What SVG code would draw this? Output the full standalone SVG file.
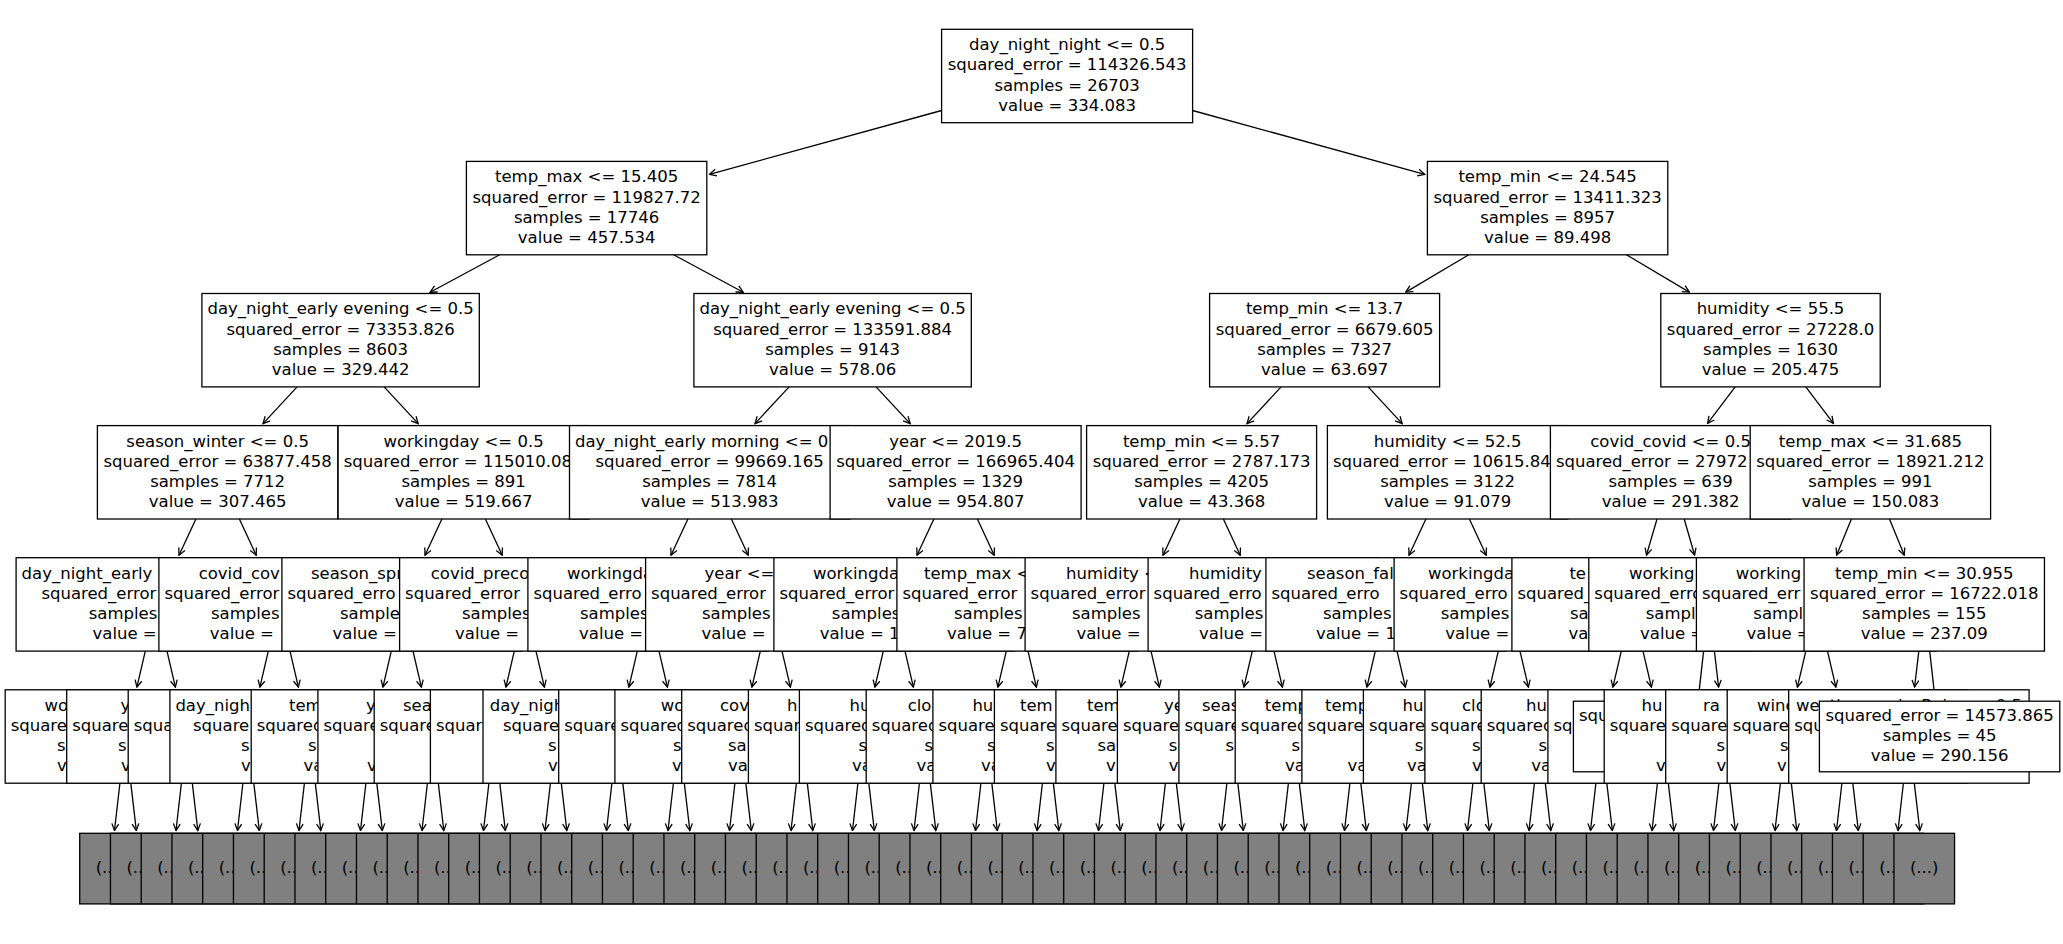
<svg xmlns="http://www.w3.org/2000/svg" width="2063" height="944" viewBox="0 0 2063 944">
<style>
.b{fill:#fff;stroke:#000;stroke-width:1.3}
.g{fill:#808080;stroke:#000;stroke-width:1.3}
text{font-family:"DejaVu Sans","Liberation Sans",sans-serif;font-size:16.5px;fill:#000}
.m{text-anchor:middle}
#connectors line{stroke:#000;stroke-width:1.3;fill:none;marker-end:url(#ah)}
</style>
<defs>
<marker id="ah" markerUnits="userSpaceOnUse" viewBox="-9 -5 10 10" refX="0" refY="0" markerWidth="10" markerHeight="10" orient="auto">
<path d="M-6.8,-3.4 L0,0 L-6.8,3.4" fill="none" stroke="#000" stroke-width="1.3"/>
</marker>
</defs>
<rect x="0" y="0" width="2063" height="944" fill="#fff"/>
<g id="connectors">
<line x1="941.6" y1="110.5" x2="709.5" y2="174.3"/>
<line x1="1192.6" y1="110.5" x2="1424.7" y2="174.3"/>
<line x1="499.7" y1="254.8" x2="430.1" y2="292.2"/>
<line x1="673.6" y1="254.8" x2="743.2" y2="292.2"/>
<line x1="1468.8" y1="254.8" x2="1405.8" y2="292.1"/>
<line x1="1626.4" y1="254.8" x2="1689.3" y2="292.1"/>
<line x1="297.1" y1="386.9" x2="263.0" y2="423.6"/>
<line x1="384.1" y1="386.9" x2="418.2" y2="423.6"/>
<line x1="789.1" y1="386.9" x2="755.0" y2="423.6"/>
<line x1="876.1" y1="386.9" x2="910.2" y2="423.6"/>
<line x1="1281.1" y1="386.9" x2="1247.0" y2="423.6"/>
<line x1="1368.1" y1="386.9" x2="1402.2" y2="423.6"/>
<line x1="1735.2" y1="386.9" x2="1707.6" y2="423.4"/>
<line x1="1805.8" y1="386.9" x2="1833.4" y2="423.4"/>
<line x1="195.9" y1="519" x2="179.0" y2="555.2"/>
<line x1="239.4" y1="519" x2="256.2" y2="555.2"/>
<line x1="441.9" y1="519" x2="425.0" y2="555.2"/>
<line x1="485.4" y1="519" x2="502.2" y2="555.2"/>
<line x1="687.9" y1="519" x2="671.0" y2="555.2"/>
<line x1="731.4" y1="519" x2="748.2" y2="555.2"/>
<line x1="933.9" y1="519" x2="917.0" y2="555.2"/>
<line x1="977.4" y1="519" x2="994.2" y2="555.2"/>
<line x1="1179.9" y1="519" x2="1163.0" y2="555.2"/>
<line x1="1223.4" y1="519" x2="1240.2" y2="555.2"/>
<line x1="1425.9" y1="519" x2="1409.0" y2="555.2"/>
<line x1="1469.4" y1="519" x2="1486.2" y2="555.2"/>
<line x1="1657.0" y1="519" x2="1646.5" y2="555.0"/>
<line x1="1684.2" y1="519" x2="1694.6" y2="555.0"/>
<line x1="1851.4" y1="519" x2="1836.7" y2="555.1"/>
<line x1="1889.5" y1="519" x2="1904.2" y2="555.1"/>
<line x1="145.3" y1="651.1" x2="136.9" y2="687.1"/>
<line x1="167.0" y1="651.1" x2="175.4" y2="687.1"/>
<line x1="268.3" y1="651.1" x2="259.9" y2="687.1"/>
<line x1="290.0" y1="651.1" x2="298.4" y2="687.1"/>
<line x1="391.3" y1="651.1" x2="382.9" y2="687.1"/>
<line x1="413.0" y1="651.1" x2="421.4" y2="687.1"/>
<line x1="514.3" y1="651.1" x2="505.9" y2="687.1"/>
<line x1="536.0" y1="651.1" x2="544.4" y2="687.1"/>
<line x1="637.3" y1="651.1" x2="628.9" y2="687.1"/>
<line x1="659.0" y1="651.1" x2="667.4" y2="687.1"/>
<line x1="760.3" y1="651.1" x2="751.9" y2="687.1"/>
<line x1="782.0" y1="651.1" x2="790.4" y2="687.1"/>
<line x1="883.3" y1="651.1" x2="874.9" y2="687.1"/>
<line x1="905.0" y1="651.1" x2="913.4" y2="687.1"/>
<line x1="1006.3" y1="651.1" x2="997.9" y2="687.1"/>
<line x1="1028.0" y1="651.1" x2="1036.4" y2="687.1"/>
<line x1="1129.3" y1="651.1" x2="1120.9" y2="687.1"/>
<line x1="1151.0" y1="651.1" x2="1159.4" y2="687.1"/>
<line x1="1252.3" y1="651.1" x2="1243.9" y2="687.1"/>
<line x1="1274.0" y1="651.1" x2="1282.4" y2="687.1"/>
<line x1="1375.3" y1="651.1" x2="1366.9" y2="687.1"/>
<line x1="1397.0" y1="651.1" x2="1405.4" y2="687.1"/>
<line x1="1498.3" y1="651.1" x2="1489.9" y2="687.1"/>
<line x1="1520.0" y1="651.1" x2="1528.4" y2="687.1"/>
<line x1="1621.3" y1="651.1" x2="1612.9" y2="687.1"/>
<line x1="1643.0" y1="651.1" x2="1651.4" y2="687.1"/>
<line x1="1703.6" y1="651.1" x2="1698.3" y2="698.4"/>
<line x1="1714.4" y1="651.1" x2="1718.6" y2="687.0"/>
<line x1="1805.8" y1="651.1" x2="1797.4" y2="687.1"/>
<line x1="1827.5" y1="651.1" x2="1835.9" y2="687.1"/>
<line x1="1918.8" y1="651.1" x2="1914.6" y2="687.0"/>
<line x1="1929.7" y1="651.1" x2="1935.0" y2="698.4"/>
<line x1="119.9" y1="783.2" x2="114.5" y2="830.5"/>
<line x1="130.8" y1="783.2" x2="136.3" y2="830.5"/>
<line x1="181.4" y1="783.2" x2="176.0" y2="830.5"/>
<line x1="192.3" y1="783.2" x2="197.8" y2="830.5"/>
<line x1="242.9" y1="783.2" x2="237.5" y2="830.5"/>
<line x1="253.8" y1="783.2" x2="259.3" y2="830.5"/>
<line x1="304.4" y1="783.2" x2="299.0" y2="830.5"/>
<line x1="315.3" y1="783.2" x2="320.8" y2="830.5"/>
<line x1="365.9" y1="783.2" x2="360.5" y2="830.5"/>
<line x1="376.8" y1="783.2" x2="382.3" y2="830.5"/>
<line x1="427.4" y1="783.2" x2="422.0" y2="830.5"/>
<line x1="438.3" y1="783.2" x2="443.8" y2="830.5"/>
<line x1="488.9" y1="783.2" x2="483.5" y2="830.5"/>
<line x1="499.8" y1="783.2" x2="505.3" y2="830.5"/>
<line x1="550.4" y1="783.2" x2="545.0" y2="830.5"/>
<line x1="561.3" y1="783.2" x2="566.8" y2="830.5"/>
<line x1="611.9" y1="783.2" x2="606.5" y2="830.5"/>
<line x1="622.8" y1="783.2" x2="628.3" y2="830.5"/>
<line x1="673.4" y1="783.2" x2="668.0" y2="830.5"/>
<line x1="684.3" y1="783.2" x2="689.8" y2="830.5"/>
<line x1="734.9" y1="783.2" x2="729.5" y2="830.5"/>
<line x1="745.8" y1="783.2" x2="751.3" y2="830.5"/>
<line x1="796.4" y1="783.2" x2="791.0" y2="830.5"/>
<line x1="807.3" y1="783.2" x2="812.8" y2="830.5"/>
<line x1="857.9" y1="783.2" x2="852.5" y2="830.5"/>
<line x1="868.8" y1="783.2" x2="874.3" y2="830.5"/>
<line x1="919.4" y1="783.2" x2="914.0" y2="830.5"/>
<line x1="930.3" y1="783.2" x2="935.8" y2="830.5"/>
<line x1="980.9" y1="783.2" x2="975.5" y2="830.5"/>
<line x1="991.8" y1="783.2" x2="997.3" y2="830.5"/>
<line x1="1042.4" y1="783.2" x2="1037.0" y2="830.5"/>
<line x1="1053.3" y1="783.2" x2="1058.8" y2="830.5"/>
<line x1="1103.9" y1="783.2" x2="1098.5" y2="830.5"/>
<line x1="1114.8" y1="783.2" x2="1120.3" y2="830.5"/>
<line x1="1165.4" y1="783.2" x2="1160.0" y2="830.5"/>
<line x1="1176.3" y1="783.2" x2="1181.8" y2="830.5"/>
<line x1="1226.9" y1="783.2" x2="1221.5" y2="830.5"/>
<line x1="1237.8" y1="783.2" x2="1243.3" y2="830.5"/>
<line x1="1288.4" y1="783.2" x2="1283.0" y2="830.5"/>
<line x1="1299.3" y1="783.2" x2="1304.8" y2="830.5"/>
<line x1="1349.9" y1="783.2" x2="1344.5" y2="830.5"/>
<line x1="1360.8" y1="783.2" x2="1366.3" y2="830.5"/>
<line x1="1411.4" y1="783.2" x2="1406.0" y2="830.5"/>
<line x1="1422.3" y1="783.2" x2="1427.8" y2="830.5"/>
<line x1="1472.9" y1="783.2" x2="1467.5" y2="830.5"/>
<line x1="1483.8" y1="783.2" x2="1489.3" y2="830.5"/>
<line x1="1534.4" y1="783.2" x2="1529.0" y2="830.5"/>
<line x1="1545.3" y1="783.2" x2="1550.8" y2="830.5"/>
<line x1="1595.9" y1="783.2" x2="1590.5" y2="830.5"/>
<line x1="1606.8" y1="783.2" x2="1612.3" y2="830.5"/>
<line x1="1657.4" y1="783.2" x2="1652.0" y2="830.5"/>
<line x1="1668.3" y1="783.2" x2="1673.8" y2="830.5"/>
<line x1="1718.9" y1="783.2" x2="1713.5" y2="830.5"/>
<line x1="1729.8" y1="783.2" x2="1735.3" y2="830.5"/>
<line x1="1780.4" y1="783.2" x2="1775.0" y2="830.5"/>
<line x1="1791.3" y1="783.2" x2="1796.8" y2="830.5"/>
<line x1="1841.9" y1="783.2" x2="1836.5" y2="830.5"/>
<line x1="1852.8" y1="783.2" x2="1858.3" y2="830.5"/>
<line x1="1903.4" y1="783.2" x2="1898.0" y2="830.5"/>
<line x1="1914.3" y1="783.2" x2="1919.8" y2="830.5"/>
</g>
<g id="gray-nodes">
<g id="g0"><rect class="g" x="79.7" y="833.3" width="60.6" height="70.6"/><text class="m" x="110" y="873.1">(...)</text></g>
<g id="g1"><rect class="g" x="110.45" y="833.3" width="60.6" height="70.6"/><text class="m" x="140.75" y="873.1">(...)</text></g>
<g id="g2"><rect class="g" x="141.2" y="833.3" width="60.6" height="70.6"/><text class="m" x="171.5" y="873.1">(...)</text></g>
<g id="g3"><rect class="g" x="171.95" y="833.3" width="60.6" height="70.6"/><text class="m" x="202.25" y="873.1">(...)</text></g>
<g id="g4"><rect class="g" x="202.7" y="833.3" width="60.6" height="70.6"/><text class="m" x="233" y="873.1">(...)</text></g>
<g id="g5"><rect class="g" x="233.45" y="833.3" width="60.6" height="70.6"/><text class="m" x="263.75" y="873.1">(...)</text></g>
<g id="g6"><rect class="g" x="264.2" y="833.3" width="60.6" height="70.6"/><text class="m" x="294.5" y="873.1">(...)</text></g>
<g id="g7"><rect class="g" x="294.95" y="833.3" width="60.6" height="70.6"/><text class="m" x="325.25" y="873.1">(...)</text></g>
<g id="g8"><rect class="g" x="325.7" y="833.3" width="60.6" height="70.6"/><text class="m" x="356" y="873.1">(...)</text></g>
<g id="g9"><rect class="g" x="356.45" y="833.3" width="60.6" height="70.6"/><text class="m" x="386.75" y="873.1">(...)</text></g>
<g id="g10"><rect class="g" x="387.2" y="833.3" width="60.6" height="70.6"/><text class="m" x="417.5" y="873.1">(...)</text></g>
<g id="g11"><rect class="g" x="417.95" y="833.3" width="60.6" height="70.6"/><text class="m" x="448.25" y="873.1">(...)</text></g>
<g id="g12"><rect class="g" x="448.7" y="833.3" width="60.6" height="70.6"/><text class="m" x="479" y="873.1">(...)</text></g>
<g id="g13"><rect class="g" x="479.45" y="833.3" width="60.6" height="70.6"/><text class="m" x="509.75" y="873.1">(...)</text></g>
<g id="g14"><rect class="g" x="510.2" y="833.3" width="60.6" height="70.6"/><text class="m" x="540.5" y="873.1">(...)</text></g>
<g id="g15"><rect class="g" x="540.95" y="833.3" width="60.6" height="70.6"/><text class="m" x="571.25" y="873.1">(...)</text></g>
<g id="g16"><rect class="g" x="571.7" y="833.3" width="60.6" height="70.6"/><text class="m" x="602" y="873.1">(...)</text></g>
<g id="g17"><rect class="g" x="602.45" y="833.3" width="60.6" height="70.6"/><text class="m" x="632.75" y="873.1">(...)</text></g>
<g id="g18"><rect class="g" x="633.2" y="833.3" width="60.6" height="70.6"/><text class="m" x="663.5" y="873.1">(...)</text></g>
<g id="g19"><rect class="g" x="663.95" y="833.3" width="60.6" height="70.6"/><text class="m" x="694.25" y="873.1">(...)</text></g>
<g id="g20"><rect class="g" x="694.7" y="833.3" width="60.6" height="70.6"/><text class="m" x="725" y="873.1">(...)</text></g>
<g id="g21"><rect class="g" x="725.45" y="833.3" width="60.6" height="70.6"/><text class="m" x="755.75" y="873.1">(...)</text></g>
<g id="g22"><rect class="g" x="756.2" y="833.3" width="60.6" height="70.6"/><text class="m" x="786.5" y="873.1">(...)</text></g>
<g id="g23"><rect class="g" x="786.95" y="833.3" width="60.6" height="70.6"/><text class="m" x="817.25" y="873.1">(...)</text></g>
<g id="g24"><rect class="g" x="817.7" y="833.3" width="60.6" height="70.6"/><text class="m" x="848" y="873.1">(...)</text></g>
<g id="g25"><rect class="g" x="848.45" y="833.3" width="60.6" height="70.6"/><text class="m" x="878.75" y="873.1">(...)</text></g>
<g id="g26"><rect class="g" x="879.2" y="833.3" width="60.6" height="70.6"/><text class="m" x="909.5" y="873.1">(...)</text></g>
<g id="g27"><rect class="g" x="909.95" y="833.3" width="60.6" height="70.6"/><text class="m" x="940.25" y="873.1">(...)</text></g>
<g id="g28"><rect class="g" x="940.7" y="833.3" width="60.6" height="70.6"/><text class="m" x="971" y="873.1">(...)</text></g>
<g id="g29"><rect class="g" x="971.45" y="833.3" width="60.6" height="70.6"/><text class="m" x="1001.75" y="873.1">(...)</text></g>
<g id="g30"><rect class="g" x="1002.2" y="833.3" width="60.6" height="70.6"/><text class="m" x="1032.5" y="873.1">(...)</text></g>
<g id="g31"><rect class="g" x="1032.95" y="833.3" width="60.6" height="70.6"/><text class="m" x="1063.25" y="873.1">(...)</text></g>
<g id="g32"><rect class="g" x="1063.7" y="833.3" width="60.6" height="70.6"/><text class="m" x="1094" y="873.1">(...)</text></g>
<g id="g33"><rect class="g" x="1094.45" y="833.3" width="60.6" height="70.6"/><text class="m" x="1124.75" y="873.1">(...)</text></g>
<g id="g34"><rect class="g" x="1125.2" y="833.3" width="60.6" height="70.6"/><text class="m" x="1155.5" y="873.1">(...)</text></g>
<g id="g35"><rect class="g" x="1155.95" y="833.3" width="60.6" height="70.6"/><text class="m" x="1186.25" y="873.1">(...)</text></g>
<g id="g36"><rect class="g" x="1186.7" y="833.3" width="60.6" height="70.6"/><text class="m" x="1217" y="873.1">(...)</text></g>
<g id="g37"><rect class="g" x="1217.45" y="833.3" width="60.6" height="70.6"/><text class="m" x="1247.75" y="873.1">(...)</text></g>
<g id="g38"><rect class="g" x="1248.2" y="833.3" width="60.6" height="70.6"/><text class="m" x="1278.5" y="873.1">(...)</text></g>
<g id="g39"><rect class="g" x="1278.95" y="833.3" width="60.6" height="70.6"/><text class="m" x="1309.25" y="873.1">(...)</text></g>
<g id="g40"><rect class="g" x="1309.7" y="833.3" width="60.6" height="70.6"/><text class="m" x="1340" y="873.1">(...)</text></g>
<g id="g41"><rect class="g" x="1340.45" y="833.3" width="60.6" height="70.6"/><text class="m" x="1370.75" y="873.1">(...)</text></g>
<g id="g42"><rect class="g" x="1371.2" y="833.3" width="60.6" height="70.6"/><text class="m" x="1401.5" y="873.1">(...)</text></g>
<g id="g43"><rect class="g" x="1401.95" y="833.3" width="60.6" height="70.6"/><text class="m" x="1432.25" y="873.1">(...)</text></g>
<g id="g44"><rect class="g" x="1432.7" y="833.3" width="60.6" height="70.6"/><text class="m" x="1463" y="873.1">(...)</text></g>
<g id="g45"><rect class="g" x="1463.45" y="833.3" width="60.6" height="70.6"/><text class="m" x="1493.75" y="873.1">(...)</text></g>
<g id="g46"><rect class="g" x="1494.2" y="833.3" width="60.6" height="70.6"/><text class="m" x="1524.5" y="873.1">(...)</text></g>
<g id="g47"><rect class="g" x="1524.95" y="833.3" width="60.6" height="70.6"/><text class="m" x="1555.25" y="873.1">(...)</text></g>
<g id="g48"><rect class="g" x="1555.7" y="833.3" width="60.6" height="70.6"/><text class="m" x="1586" y="873.1">(...)</text></g>
<g id="g49"><rect class="g" x="1586.45" y="833.3" width="60.6" height="70.6"/><text class="m" x="1616.75" y="873.1">(...)</text></g>
<g id="g50"><rect class="g" x="1617.2" y="833.3" width="60.6" height="70.6"/><text class="m" x="1647.5" y="873.1">(...)</text></g>
<g id="g51"><rect class="g" x="1647.95" y="833.3" width="60.6" height="70.6"/><text class="m" x="1678.25" y="873.1">(...)</text></g>
<g id="g52"><rect class="g" x="1678.7" y="833.3" width="60.6" height="70.6"/><text class="m" x="1709" y="873.1">(...)</text></g>
<g id="g53"><rect class="g" x="1709.45" y="833.3" width="60.6" height="70.6"/><text class="m" x="1739.75" y="873.1">(...)</text></g>
<g id="g54"><rect class="g" x="1740.2" y="833.3" width="60.6" height="70.6"/><text class="m" x="1770.5" y="873.1">(...)</text></g>
<g id="g55"><rect class="g" x="1770.95" y="833.3" width="60.6" height="70.6"/><text class="m" x="1801.25" y="873.1">(...)</text></g>
<g id="g56"><rect class="g" x="1801.7" y="833.3" width="60.6" height="70.6"/><text class="m" x="1832" y="873.1">(...)</text></g>
<g id="g57"><rect class="g" x="1832.45" y="833.3" width="60.6" height="70.6"/><text class="m" x="1862.75" y="873.1">(...)</text></g>
<g id="g58"><rect class="g" x="1863.2" y="833.3" width="60.6" height="70.6"/><text class="m" x="1893.5" y="873.1">(...)</text></g>
<g id="g59"><rect class="g" x="1893.95" y="833.3" width="60.6" height="70.6"/><text class="m" x="1924.25" y="873.1">(...)</text></g>
</g>
<g id="depth5">
<g id="d5n0"><rect class="b" x="5.2" y="689.8" width="240.4" height="93.4"/><text x="44.6" y="710.7">wo</text><text x="10.7" y="730.9">square</text><text x="57" y="751.1">s</text><text x="57" y="771.3">v</text></g>
<g id="d5n1"><rect class="b" x="66.7" y="689.8" width="240.4" height="93.4"/><text x="120.5" y="710.7">y</text><text x="72.2" y="730.9">square</text><text x="118" y="751.1">s</text><text x="121" y="771.3">v</text></g>
<g id="d5n2"><rect class="b" x="128.2" y="689.8" width="240.4" height="93.4"/><text x="133.7" y="730.9">squa</text></g>
<g id="d5n3"><rect class="b" x="169.9" y="689.8" width="280" height="93.4"/><text x="175.4" y="710.7">day_nigh</text><text x="193" y="730.9">square</text><text x="241" y="751.1">s</text><text x="241" y="771.3">v</text></g>
<g id="d5n4"><rect class="b" x="251.2" y="689.8" width="240.4" height="93.4"/><text x="289" y="710.7">tem</text><text x="256.7" y="730.9">squared</text><text x="308" y="751.1">s</text><text x="303.6" y="771.3">va</text></g>
<g id="d5n5"><rect class="b" x="317.9" y="689.8" width="230" height="93.4"/><text x="366" y="710.7">y</text><text x="323.4" y="730.9">square</text><text x="367" y="771.3">v</text></g>
<g id="d5n6"><rect class="b" x="374.2" y="689.8" width="240.4" height="93.4"/><text x="403" y="710.7">sea</text><text x="379.7" y="730.9">square</text></g>
<g id="d5n7"><rect class="b" x="430.4" y="689.8" width="251" height="93.4"/><text x="435.9" y="730.9">squar</text></g>
<g id="d5n8"><rect class="b" x="483" y="689.8" width="268.8" height="93.4"/><text x="489.7" y="710.7">day_nigh</text><text x="503" y="730.9">square</text><text x="548" y="751.1">s</text><text x="548" y="771.3">v</text></g>
<g id="d5n9"><rect class="b" x="558.7" y="689.8" width="240.4" height="93.4"/><text x="564.2" y="730.9">square</text></g>
<g id="d5n10"><rect class="b" x="614.9" y="689.8" width="251" height="93.4"/><text x="660.7" y="710.7">wo</text><text x="620.4" y="730.9">squared</text><text x="673" y="751.1">s</text><text x="672" y="771.3">v</text></g>
<g id="d5n11"><rect class="b" x="681.7" y="689.8" width="240.4" height="93.4"/><text x="720" y="710.7">cov</text><text x="687.2" y="730.9">squared</text><text x="728" y="751.1">sa</text><text x="728" y="771.3">va</text></g>
<g id="d5n12"><rect class="b" x="748.4" y="689.8" width="230" height="93.4"/><text x="787" y="710.7">h</text><text x="753.9" y="730.9">squar</text></g>
<g id="d5n13"><rect class="b" x="799.4" y="689.8" width="251" height="93.4"/><text x="849.6" y="710.7">hu</text><text x="804.9" y="730.9">squared</text><text x="858.6" y="751.1">s</text><text x="852" y="771.3">va</text></g>
<g id="d5n14"><rect class="b" x="866.2" y="689.8" width="240.4" height="93.4"/><text x="907.7" y="710.7">clo</text><text x="871.7" y="730.9">squared</text><text x="924.6" y="751.1">s</text><text x="916.6" y="771.3">va</text></g>
<g id="d5n15"><rect class="b" x="932.9" y="689.8" width="230" height="93.4"/><text x="972.4" y="710.7">hu</text><text x="938.4" y="730.9">square</text><text x="987" y="751.1">s</text><text x="981" y="771.3">va</text></g>
<g id="d5n16"><rect class="b" x="994.4" y="689.8" width="230" height="93.4"/><text x="1020" y="710.7">tem</text><text x="999.9" y="730.9">square</text><text x="1046" y="751.1">s</text><text x="1046" y="771.3">v</text></g>
<g id="d5n17"><rect class="b" x="1055.9" y="689.8" width="230" height="93.4"/><text x="1087" y="710.7">tem</text><text x="1061.4" y="730.9">square</text><text x="1097.4" y="751.1">sa</text><text x="1106" y="771.3">v</text></g>
<g id="d5n18"><rect class="b" x="1117.4" y="689.8" width="230" height="93.4"/><text x="1164" y="710.7">ye</text><text x="1122.9" y="730.9">square</text><text x="1168.8" y="751.1">s</text><text x="1168.8" y="771.3">v</text></g>
<g id="d5n19"><rect class="b" x="1178.9" y="689.8" width="230" height="93.4"/><text x="1202" y="710.7">seas</text><text x="1184.4" y="730.9">square</text><text x="1225.5" y="751.1">s</text></g>
<g id="d5n20"><rect class="b" x="1235.2" y="689.8" width="240.4" height="93.4"/><text x="1264.8" y="710.7">temp</text><text x="1240.7" y="730.9">squared</text><text x="1291.6" y="751.1">s</text><text x="1285" y="771.3">va</text></g>
<g id="d5n21"><rect class="b" x="1301.9" y="689.8" width="230" height="93.4"/><text x="1325" y="710.7">temp</text><text x="1307.4" y="730.9">square</text><text x="1347.4" y="771.3">va</text></g>
<g id="d5n22"><rect class="b" x="1363.4" y="689.8" width="230" height="93.4"/><text x="1402.6" y="710.7">hu</text><text x="1368.9" y="730.9">square</text><text x="1414.7" y="751.1">s</text><text x="1407" y="771.3">va</text></g>
<g id="d5n23"><rect class="b" x="1424.9" y="689.8" width="230" height="93.4"/><text x="1462" y="710.7">clo</text><text x="1430.4" y="730.9">square</text><text x="1472" y="751.1">s</text><text x="1472" y="771.3">v</text></g>
<g id="d5n24"><rect class="b" x="1481.2" y="689.8" width="240.4" height="93.4"/><text x="1526" y="710.7">hu</text><text x="1486.7" y="730.9">squared</text><text x="1538.5" y="751.1">s</text><text x="1531.3" y="771.3">va</text></g>
<g id="d5n25"><rect class="b" x="1547.9" y="689.8" width="230" height="93.4"/><text x="1553.4" y="730.9">sq</text></g>
<g id="d5n26"><rect class="b" x="1573.4" y="701.2" width="240.4" height="70.6"/><text x="1578.9" y="720.8">squ</text></g>
<g id="d5n27"><rect class="b" x="1604.2" y="689.8" width="240.4" height="93.4"/><text x="1641.6" y="710.7">hu</text><text x="1609.7" y="730.9">square</text><text x="1656" y="771.3">v</text></g>
<g id="d5n28"><rect class="b" x="1665.7" y="689.8" width="240.4" height="93.4"/><text x="1703" y="710.7">ra</text><text x="1671.2" y="730.9">square</text><text x="1716.5" y="751.1">s</text><text x="1716.5" y="771.3">v</text></g>
<g id="d5n29"><rect class="b" x="1727.2" y="689.8" width="240.4" height="93.4"/><text x="1757" y="710.7">wind</text><text x="1732.7" y="730.9">square</text><text x="1780" y="751.1">s</text><text x="1777" y="771.3">v</text></g>
<g id="d5n30"><rect class="b" x="1788.7" y="689.8" width="240.4" height="93.4"/><text class="m" x="1908.9" y="710.7">weather_main_Rain &lt;= 0.5</text><text x="1794.2" y="730.9">squ</text></g>
<g id="d5n31"><rect class="b" x="1819.4" y="701.2" width="240.4" height="70.6"/><text class="m" x="1939.6" y="720.8">squared_error = 14573.865</text><text class="m" x="1939.6" y="741">samples = 45</text><text class="m" x="1939.6" y="761.2">value = 290.156</text></g>
</g>
<g id="depth4">
<g id="d4n0"><rect class="b" x="16.1" y="557.7" width="280" height="93.4"/><text x="21.6" y="578.6">day_night_early</text><text x="41.4" y="598.8">squared_error</text><text x="88.7" y="619">samples</text><text x="92.5" y="639.2">value =</text></g>
<g id="d4n1"><rect class="b" x="158.9" y="557.7" width="240.4" height="93.4"/><text x="198.7" y="578.6">covid_cov</text><text x="164.4" y="598.8">squared_error</text><text x="211" y="619">samples</text><text x="209.8" y="639.2">value =</text></g>
<g id="d4n2"><rect class="b" x="281.9" y="557.7" width="240.4" height="93.4"/><text x="311" y="578.6">season_spr</text><text x="287.4" y="598.8">squared_erro</text><text x="340" y="619">sample</text><text x="332.6" y="639.2">value =</text></g>
<g id="d4n3"><rect class="b" x="399.6" y="557.7" width="251" height="93.4"/><text x="430.8" y="578.6">covid_preco</text><text x="405.1" y="598.8">squared_error</text><text x="462" y="619">samples</text><text x="455" y="639.2">value =</text></g>
<g id="d4n4"><rect class="b" x="527.9" y="557.7" width="240.4" height="93.4"/><text x="567" y="578.6">workingda</text><text x="533.4" y="598.8">squared_erro</text><text x="580" y="619">samples</text><text x="579" y="639.2">value =</text></g>
<g id="d4n5"><rect class="b" x="645.6" y="557.7" width="251" height="93.4"/><text x="704.6" y="578.6">year &lt;=</text><text x="651.1" y="598.8">squared_error</text><text x="702" y="619">samples</text><text x="701.4" y="639.2">value =</text></g>
<g id="d4n6"><rect class="b" x="773.9" y="557.7" width="240.4" height="93.4"/><text x="813" y="578.6">workingda</text><text x="779.4" y="598.8">squared_error</text><text x="831.8" y="619">samples</text><text x="819.7" y="639.2">value = 1</text></g>
<g id="d4n7"><rect class="b" x="896.9" y="557.7" width="240.4" height="93.4"/><text x="924" y="578.6">temp_max &lt;</text><text x="902.4" y="598.8">squared_error</text><text x="954" y="619">samples</text><text x="947" y="639.2">value = 7</text></g>
<g id="d4n8"><rect class="b" x="1025.1" y="557.7" width="230" height="93.4"/><text x="1066" y="578.6">humidity &lt;</text><text x="1030.6" y="598.8">squared_error</text><text x="1072" y="619">samples</text><text x="1076.4" y="639.2">value =</text></g>
<g id="d4n9"><rect class="b" x="1148.1" y="557.7" width="230" height="93.4"/><text x="1189" y="578.6">humidity</text><text x="1153.6" y="598.8">squared_erro</text><text x="1194.7" y="619">samples</text><text x="1199" y="639.2">value =</text></g>
<g id="d4n10"><rect class="b" x="1265.9" y="557.7" width="240.4" height="93.4"/><text x="1307" y="578.6">season_fal</text><text x="1271.4" y="598.8">squared_erro</text><text x="1322.9" y="619">samples</text><text x="1316" y="639.2">value = 1</text></g>
<g id="d4n11"><rect class="b" x="1394.1" y="557.7" width="230" height="93.4"/><text x="1428" y="578.6">workingda</text><text x="1399.6" y="598.8">squared_erro</text><text x="1440.7" y="619">samples</text><text x="1445.2" y="639.2">value =</text></g>
<g id="d4n12"><rect class="b" x="1511.9" y="557.7" width="240.4" height="93.4"/><text x="1569.4" y="578.6">te</text><text x="1517.4" y="598.8">squared_</text><text x="1570" y="619">sa</text><text x="1568.5" y="639.2">va</text></g>
<g id="d4n13"><rect class="b" x="1588.8" y="557.7" width="240.4" height="93.4"/><text x="1629" y="578.6">working</text><text x="1594.3" y="598.8">squared_erro</text><text x="1645.7" y="619">sampl</text><text x="1640" y="639.2">value =</text></g>
<g id="d4n14"><rect class="b" x="1696.4" y="557.7" width="240.4" height="93.4"/><text x="1735.8" y="578.6">working</text><text x="1701.9" y="598.8">squared_err</text><text x="1753.3" y="619">sampl</text><text x="1746.5" y="639.2">value =</text></g>
<g id="d4n15"><rect class="b" x="1804.05" y="557.7" width="240.4" height="93.4"/><text class="m" x="1924.25" y="578.6">temp_min &lt;= 30.955</text><text class="m" x="1924.25" y="598.8">squared_error = 16722.018</text><text class="m" x="1924.25" y="619">samples = 155</text><text class="m" x="1924.25" y="639.2">value = 237.09</text></g>
</g>
<g id="depth3">
<g id="d3n0"><rect class="b" x="97.4" y="425.6" width="240.4" height="93.4"/><text class="m" x="217.6" y="446.5">season_winter &lt;= 0.5</text><text class="m" x="217.6" y="466.7">squared_error = 63877.458</text><text class="m" x="217.6" y="486.9">samples = 7712</text><text class="m" x="217.6" y="507.1">value = 307.465</text></g>
<g id="d3n1"><rect class="b" x="338.1" y="425.6" width="251" height="93.4"/><text class="m" x="463.6" y="446.5">workingday &lt;= 0.5</text><text x="343.7" y="466.7">squared_error = 115010.08</text><text class="m" x="463.6" y="486.9">samples = 891</text><text class="m" x="463.6" y="507.1">value = 519.667</text></g>
<g id="d3n2"><rect class="b" x="569.5" y="425.6" width="280.3" height="93.4"/><text x="575" y="446.5">day_night_early morning &lt;= 0</text><text class="m" x="709.6" y="466.7">squared_error = 99669.165</text><text class="m" x="709.6" y="486.9">samples = 7814</text><text class="m" x="709.6" y="507.1">value = 513.983</text></g>
<g id="d3n3"><rect class="b" x="830.1" y="425.6" width="251" height="93.4"/><text class="m" x="955.6" y="446.5">year &lt;= 2019.5</text><text class="m" x="955.6" y="466.7">squared_error = 166965.404</text><text class="m" x="955.6" y="486.9">samples = 1329</text><text class="m" x="955.6" y="507.1">value = 954.807</text></g>
<g id="d3n4"><rect class="b" x="1086.6" y="425.6" width="230" height="93.4"/><text class="m" x="1201.6" y="446.5">temp_min &lt;= 5.57</text><text class="m" x="1201.6" y="466.7">squared_error = 2787.173</text><text class="m" x="1201.6" y="486.9">samples = 4205</text><text class="m" x="1201.6" y="507.1">value = 43.368</text></g>
<g id="d3n5"><rect class="b" x="1327.4" y="425.6" width="240.4" height="93.4"/><text class="m" x="1447.6" y="446.5">humidity &lt;= 52.5</text><text x="1332.9" y="466.7">squared_error = 10615.84</text><text class="m" x="1447.6" y="486.9">samples = 3122</text><text class="m" x="1447.6" y="507.1">value = 91.079</text></g>
<g id="d3n6"><rect class="b" x="1550.4" y="425.6" width="240.4" height="93.4"/><text class="m" x="1670.6" y="446.5">covid_covid &lt;= 0.5</text><text x="1555.9" y="466.7">squared_error = 27972</text><text class="m" x="1670.6" y="486.9">samples = 639</text><text class="m" x="1670.6" y="507.1">value = 291.382</text></g>
<g id="d3n7"><rect class="b" x="1750.2" y="425.6" width="240.4" height="93.4"/><text class="m" x="1870.4" y="446.5">temp_max &lt;= 31.685</text><text class="m" x="1870.4" y="466.7">squared_error = 18921.212</text><text class="m" x="1870.4" y="486.9">samples = 991</text><text class="m" x="1870.4" y="507.1">value = 150.083</text></g>
</g>
<g id="depth2">
<g id="d2n0"><rect class="b" x="201.9" y="293.5" width="277.4" height="93.4"/><text class="m" x="340.6" y="314.4">day_night_early evening &lt;= 0.5</text><text class="m" x="340.6" y="334.6">squared_error = 73353.826</text><text class="m" x="340.6" y="354.8">samples = 8603</text><text class="m" x="340.6" y="375">value = 329.442</text></g>
<g id="d2n1"><rect class="b" x="693.9" y="293.5" width="277.4" height="93.4"/><text class="m" x="832.6" y="314.4">day_night_early evening &lt;= 0.5</text><text class="m" x="832.6" y="334.6">squared_error = 133591.884</text><text class="m" x="832.6" y="354.8">samples = 9143</text><text class="m" x="832.6" y="375">value = 578.06</text></g>
<g id="d2n2"><rect class="b" x="1209.6" y="293.5" width="230" height="93.4"/><text class="m" x="1324.6" y="314.4">temp_min &lt;= 13.7</text><text class="m" x="1324.6" y="334.6">squared_error = 6679.605</text><text class="m" x="1324.6" y="354.8">samples = 7327</text><text class="m" x="1324.6" y="375">value = 63.697</text></g>
<g id="d2n3"><rect class="b" x="1660.8" y="293.5" width="219.4" height="93.4"/><text class="m" x="1770.5" y="314.4">humidity &lt;= 55.5</text><text class="m" x="1770.5" y="334.6">squared_error = 27228.0</text><text class="m" x="1770.5" y="354.8">samples = 1630</text><text class="m" x="1770.5" y="375">value = 205.475</text></g>
</g>
<g id="depth1">
<g id="d1n0"><rect class="b" x="466.4" y="161.4" width="240.4" height="93.4"/><text class="m" x="586.6" y="182.3">temp_max &lt;= 15.405</text><text class="m" x="586.6" y="202.5">squared_error = 119827.72</text><text class="m" x="586.6" y="222.7">samples = 17746</text><text class="m" x="586.6" y="242.9">value = 457.534</text></g>
<g id="d1n1"><rect class="b" x="1427.4" y="161.4" width="240.4" height="93.4"/><text class="m" x="1547.6" y="182.3">temp_min &lt;= 24.545</text><text class="m" x="1547.6" y="202.5">squared_error = 13411.323</text><text class="m" x="1547.6" y="222.7">samples = 8957</text><text class="m" x="1547.6" y="242.9">value = 89.498</text></g>
</g>
<g id="root"><rect class="b" x="941.6" y="29.3" width="251" height="93.4"/><text class="m" x="1067.1" y="50.2">day_night_night &lt;= 0.5</text><text class="m" x="1067.1" y="70.4">squared_error = 114326.543</text><text class="m" x="1067.1" y="90.6">samples = 26703</text><text class="m" x="1067.1" y="110.8">value = 334.083</text></g>
</svg>
